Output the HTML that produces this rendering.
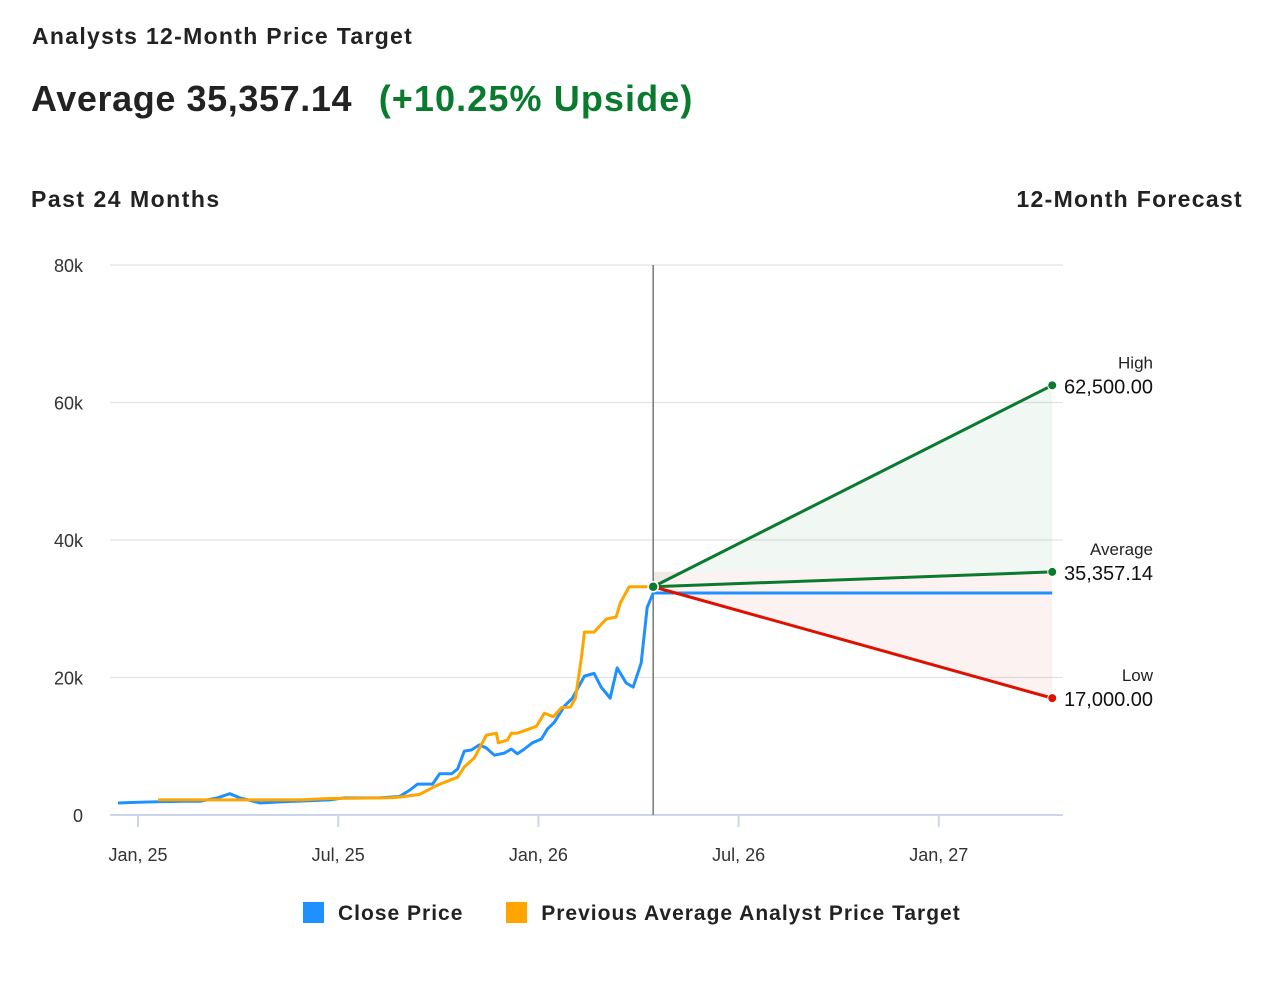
<!DOCTYPE html>
<html><head><meta charset="utf-8"><style>
body{margin:0;width:1280px;height:1000px;background:#fff;font-family:"Liberation Sans",sans-serif;color:#222;position:relative;overflow:hidden}
.t{position:absolute;white-space:nowrap}
</style></head><body>
<div class="t" style="left:32px;top:23px;font-size:23px;font-weight:600;letter-spacing:1.3px">Analysts 12-Month Price Target</div>
<div class="t" style="left:31px;top:78px;font-size:36px;font-weight:700;letter-spacing:0.6px">Average 35,357.14 <span style="color:#0a7a2f;margin-left:16px;letter-spacing:1.1px">(+10.25% Upside)</span></div>
<div class="t" style="left:31px;top:186px;font-size:23px;font-weight:600;letter-spacing:1.5px">Past 24 Months</div>
<div class="t" style="right:37px;top:186px;font-size:23px;font-weight:600;letter-spacing:1.3px">12-Month Forecast</div>
<svg id="c" width="1280" height="1000" style="position:absolute;left:0;top:0"></svg>
<div class="t" style="left:303px;top:902px;font-size:21px;font-weight:600;letter-spacing:1px">
<span><span style="display:inline-block;width:21px;height:21px;background:#1e90ff;vertical-align:-3px;margin-right:14px"></span>Close Price</span>
<span style="margin-left:36px"><span style="display:inline-block;width:21px;height:21px;background:#ffa500;vertical-align:-3px;margin-right:14px"></span>Previous Average Analyst Price Target</span>
</div>
<script>
// months since Jan 2025, values in thousands
const closeMonths=[-0.6,0.36,1.41,1.86,2.39,2.75,3.05,3.65,4.25,5.74,6.19,7.24,7.84,8.14,8.38,8.83,9.04,9.4,9.58,9.78,9.99,10.23,10.44,10.68,10.98,11.19,11.37,11.58,11.82,12.09,12.27,12.48,12.78,13.02,13.38,13.67,13.88,14.15,14.36,14.63,14.84,15.08,15.26,15.44,27.4];
const closeValues=[1.75,1.9,2.0,2.0,2.5,3.1,2.5,1.75,1.9,2.2,2.5,2.5,2.7,3.6,4.5,4.5,6.0,6.0,6.7,9.3,9.45,10.2,9.75,8.7,9.0,9.6,8.9,9.6,10.5,11.05,12.5,13.5,15.85,17.0,20.2,20.6,18.6,17.0,21.4,19.2,18.6,22.1,30.2,32.3,32.3];
const targetMonths=[0.6,4.85,5.74,7.54,7.84,8.44,8.95,9.58,9.78,10.08,10.44,10.74,10.8,11.07,11.19,11.37,11.94,12.18,12.45,12.69,12.96,13.11,13.29,13.38,13.67,14.03,14.33,14.45,14.72,15.44];
const targetValues=[2.2,2.2,2.4,2.5,2.6,3.0,4.3,5.5,7.0,8.3,11.6,11.9,10.5,10.9,11.9,11.9,12.9,14.8,14.3,15.6,15.7,17.0,22.9,26.6,26.6,28.5,28.8,30.8,33.2,33.2];
const yTicks=[0,20,40,60,80];
const yTickLabels=["0","20k","40k","60k","80k"];
const xTickMonths=[0,6,12,18,24];
const xTickLabels=["Jan, 25","Jul, 25","Jan, 26","Jul, 26","Jan, 27"];
const nowMonth=15.44, endMonth=27.4;
const forecastNames=["High","Average","Low"];
const forecastValues=[62.5,35.35714,17.0];
const forecastLabels=["62,500.00","35,357.14","17,000.00"];
const currentValue=33.2;

const X=m=>138+m*200.2/6, Y=v=>815-v*6.875;
const svg=document.getElementById('c');const NS='http://www.w3.org/2000/svg';
function mk(tag,a){const e=document.createElementNS(NS,tag);for(const k in a)e.setAttribute(k,a[k]);svg.appendChild(e);return e;}
yTicks.forEach((v,i)=>{
 const l=mk('line',{x1:110,x2:1063,y1:Y(v),y2:Y(v),stroke:v===0?'#ccd6eb':'#e3e3e3','stroke-width':v===0?2:1.3});
 
 const t=mk('text',{x:83,y:Y(v)+7,'text-anchor':'end','font-size':18,fill:'#333'});t.textContent=yTickLabels[i];
 
});
xTickMonths.forEach((m,i)=>{
 const l=mk('line',{x1:X(m),x2:X(m),y1:815,y2:827,stroke:'#ccd6eb','stroke-width':2});
 
 const t=mk('text',{x:X(m),y:861,'text-anchor':'middle','font-size':18,fill:'#333'});t.textContent=xTickLabels[i];
 
});
const x0=X(nowMonth),x1=X(endMonth),yc=Y(currentValue);
let p=mk('polygon',{points:`${x0},${yc} ${x1},${Y(forecastValues[0])} ${x1},${Y(forecastValues[1])} ${x0},${Y(forecastValues[1])}`,fill:'#0a7a2f','fill-opacity':0.06});

p=mk('polygon',{points:`${x0},${Y(forecastValues[1])} ${x1},${Y(forecastValues[1])} ${x1},${Y(forecastValues[2])} ${x0},${yc}`,fill:'#e00000','fill-opacity':0.05});

const vl=mk('line',{x1:x0,x2:x0,y1:265,y2:815,stroke:'#777','stroke-width':1.5});

const cp=mk('polyline',{points:closeMonths.map((m,i)=>X(m)+','+Y(closeValues[i])).join(' '),fill:'none',stroke:'#1e90ff','stroke-width':3,'stroke-linejoin':'round'});

const tp=mk('polyline',{points:targetMonths.map((m,i)=>X(m)+','+Y(targetValues[i])).join(' '),fill:'none',stroke:'#ffa500','stroke-width':3,'stroke-linejoin':'round'});

const cols=['#0a7a2f','#0a7a2f','#dd1100'];
forecastValues.forEach((v,i)=>{
 const l=mk('line',{x1:x0,y1:yc,x2:x1,y2:Y(v),stroke:cols[i],'stroke-width':3});
 
 const c=mk('circle',{cx:x1,cy:Y(v),r:4.5,fill:cols[i],stroke:'#fff','stroke-width':1});
 
 const n=mk('text',{x:1153,y:Y(v)-17,'text-anchor':'end','font-size':17,fill:'#222'});n.textContent=forecastNames[i];
 
 const t=mk('text',{x:1153,y:Y(v)+8,'text-anchor':'end','font-size':20,fill:'#111'});t.textContent=forecastLabels[i];
 
});
const cc=mk('circle',{cx:x0,cy:yc,r:5,fill:'#0a7a2f',stroke:'#fff','stroke-width':1.5});

</script>
</body></html>
